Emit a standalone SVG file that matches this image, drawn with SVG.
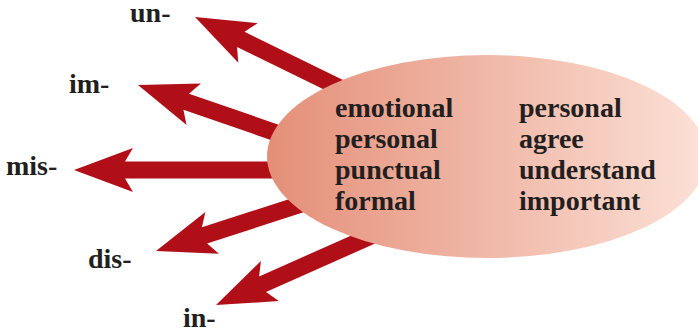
<svg xmlns="http://www.w3.org/2000/svg" width="698" height="332" viewBox="0 0 698 332">
  <style>
    .lbl { font-family: "Liberation Serif", "Times New Roman", serif; font-weight: bold; font-size: 28px; fill: #231F20; }
    .arrow { fill: #B10F18; }
  </style>
  <defs>
    <linearGradient id="bubbleFill" x1="0" y1="0" x2="1" y2="0">
      <stop offset="0" stop-color="#E48F78"/>
      <stop offset="1" stop-color="#FCE1D7"/>
    </linearGradient>
    <!-- barbed arrow pointing left, tip at origin, shaft running along +x -->
    <path id="barbArrow" d="M0,0 L59,-22 L51,-8.5 L200,-8.5 L200,8.5 L51,8.5 L59,22 Z"/>
  </defs>

  <g id="connectors" class="arrow">
    <use href="#barbArrow" transform="translate(195,17) rotate(26.1)"/>
    <use href="#barbArrow" transform="translate(138,85) rotate(19.1)"/>
    <use href="#barbArrow" transform="translate(74,170)"/>
    <use href="#barbArrow" transform="translate(156,251) rotate(-17.9)"/>
    <use href="#barbArrow" transform="translate(216,305) rotate(-24)"/>
  </g>

  <g id="words">
    <ellipse cx="487" cy="156.5" rx="220" ry="101.5" fill="url(#bubbleFill)"/>
    <text class="lbl" x="335" y="116.5">emotional</text>
    <text class="lbl" x="335" y="147.5">personal</text>
    <text class="lbl" x="335" y="178.5">punctual</text>
    <text class="lbl" x="335" y="209.5">formal</text>
    <text class="lbl" x="519" y="116.5">personal</text>
    <text class="lbl" x="519" y="147.5">agree</text>
    <text class="lbl" x="519" y="178.5">understand</text>
    <text class="lbl" x="519" y="209.5">important</text>
  </g>

  <g id="prefix-un"><text class="lbl" x="130" y="22">un-</text></g>
  <g id="prefix-im"><text class="lbl" x="69" y="93">im-</text></g>
  <g id="prefix-mis"><text class="lbl" x="6" y="175">mis-</text></g>
  <g id="prefix-dis"><text class="lbl" x="88" y="268">dis-</text></g>
  <g id="prefix-in"><text class="lbl" x="183" y="327">in-</text></g>
</svg>
